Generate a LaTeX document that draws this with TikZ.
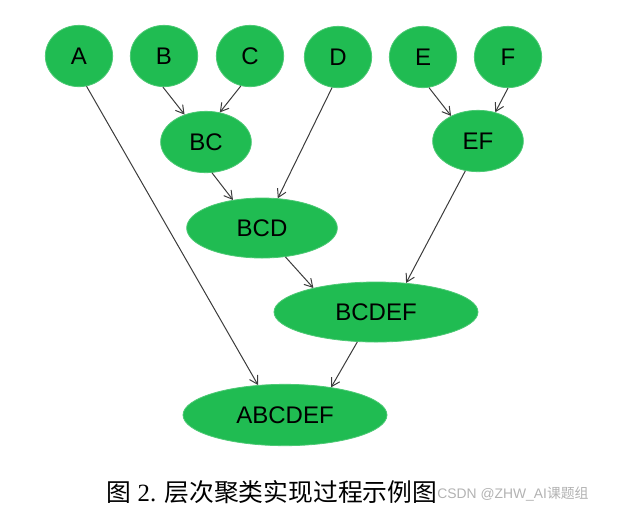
\documentclass[tikz,border=0pt]{standalone}
\usepackage{fontspec}
\setmainfont{Liberation Serif}
\newfontfamily\arialfont{Liberation Sans}
\newfontfamily\cjk{Noto Sans CJK SC}
\usetikzlibrary{shapes.geometric, arrows.meta}
\definecolor{clustergreen}{RGB}{32,188,82}
\definecolor{edgegray}{RGB}{60,60,60}

\tikzset{
  cluster/.style={ellipse, fill=clustergreen, draw=clustergreen!80!white, line width=0.6pt,
    inner sep=0pt, font=\arialfont\fontsize{18}{20}\selectfont},
  leaf/.style={cluster, minimum width=50.5pt, minimum height=46pt},
  merge/.style={->, >={Straight Barb[length=6pt,width=7pt]}, draw=edgegray, line width=0.75pt}
}

\begin{document}
\begin{tikzpicture}[x=0.75pt, y=-0.75pt]
        \useasboundingbox (0,0) rectangle (620,512);

        % Define leaf clusters
        \node[leaf] (A) at (79, 56) {A};
        \node[leaf] (B) at (164, 56) {B};
        \node[leaf] (C) at (250, 56) {C};
        \node[leaf] (D) at (338, 57) {D};
        \node[leaf] (E) at (423, 57) {E};
        \node[leaf] (F) at (508, 57) {F};

        % Define merged clusters
        \node[cluster, minimum width=68pt, minimum height=46pt] (BC) at (206, 142) {BC};
        \node[cluster, minimum width=68pt, minimum height=46pt] (EF) at (478, 141) {EF};
        \node[cluster, minimum width=113pt, minimum height=45pt] (BCD) at (262, 228) {BCD};
        \node[cluster, minimum width=153pt, minimum height=45pt] (BCDEF) at (376, 312) {BCDEF};
        \node[cluster, minimum width=153pt, minimum height=46pt] (ABCDEF) at (285, 415) {ABCDEF};

        % Draw merge arrows
        \draw[merge] (B.-92) -- (BC.128);
        \draw[merge] (C.-107) -- (BC.65);
        \draw[merge] (E.-79) -- (EF.137);
        \draw[merge] (F.-90) -- (EF.59);
        \draw[merge] (BC.-79) -- (BCD.136);
        \draw[merge] (D.-101) -- (BCD.62);
        \draw[merge] (BCD.-51) -- (BCDEF.159);
        \draw[merge] (EF.-113) -- (BCDEF.44);
        \draw[merge] (BCDEF.-122) -- (ABCDEF.31);
        \draw[merge] (A.-76) -- (ABCDEF.132);

        % Caption and watermark
        \node[font=\fontsize{18.6}{20}\selectfont] (caption) at (272, 492) {{\cjk 图} 2. {\cjk 层次聚类实现过程示例图}};
        \node[font=\arialfont\fontsize{10.4}{12}\selectfont, text=black!30] (mark) at (513, 494) {CSDN @ZHW\_AI{\cjk 课题组}};
    \end{tikzpicture}
\end{document}
